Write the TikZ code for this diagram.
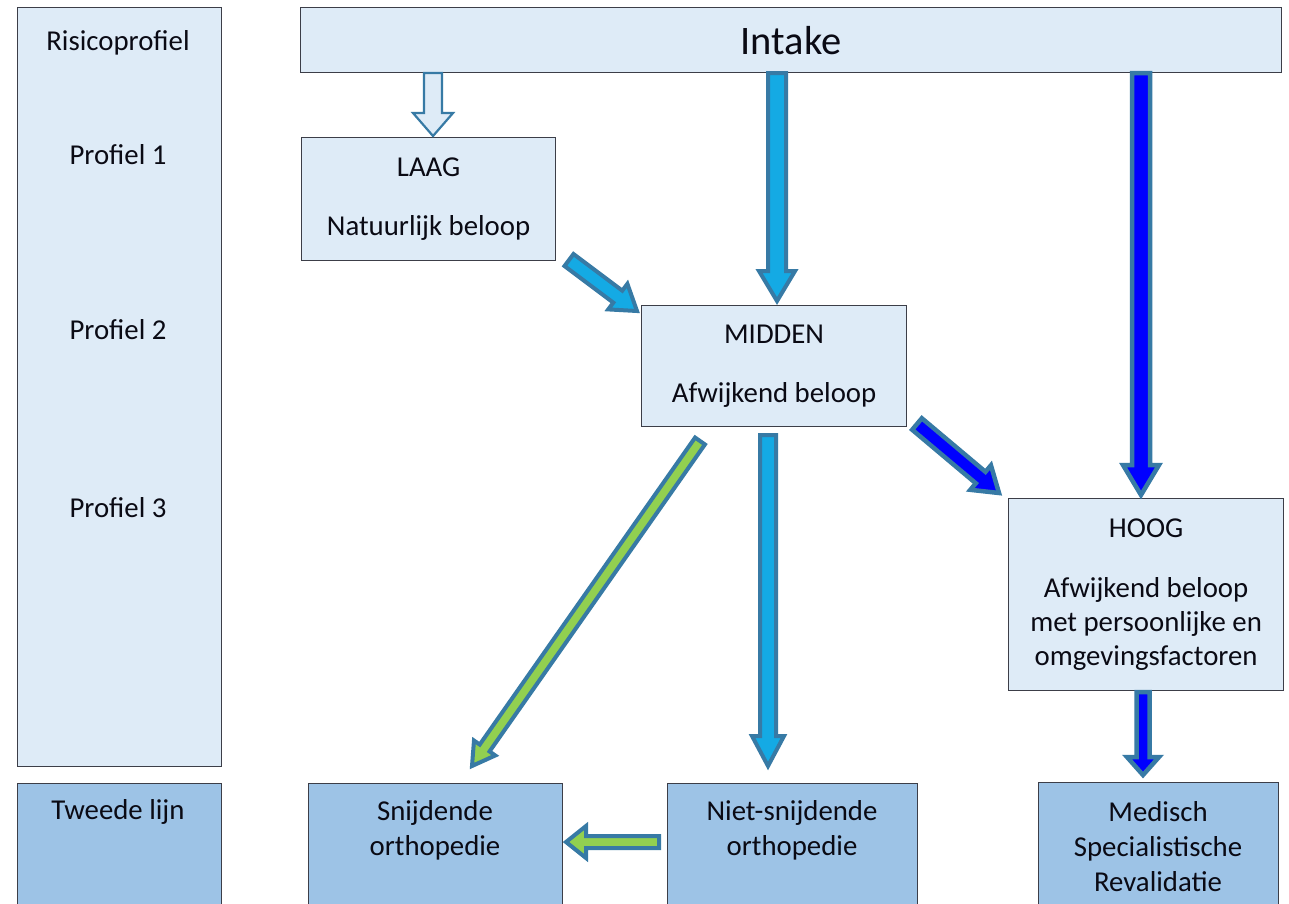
\documentclass[tikz,border=0pt]{standalone}
\usepackage{fontspec}
\setmainfont{Carlito}
\usetikzlibrary{calc}
\definecolor{boxlight}{RGB}{222,235,247}
\definecolor{boxdark}{RGB}{157,195,230}
\definecolor{boxline}{RGB}{60,62,72}
\definecolor{arrline}{RGB}{55,122,165}
\definecolor{arrcyan}{RGB}{20,170,228}
\definecolor{arrblue}{RGB}{0,0,255}
\definecolor{arrgreen}{RGB}{146,208,80}
\definecolor{txt}{RGB}{10,10,20}

% #1 style, #2 from, #3 to, #4 half shaft, #5 half head, #6 head length
\newcommand{\blockarrow}[6][]{%
  \coordinate (ba-head) at ($(#3)!#6!(#2)$);
  \draw[#1] ($(#2)!#4!90:(#3)$) -- ($(ba-head)!#4!90:(#3)$) -- ($(ba-head)!#5!90:(#3)$)
    -- (#3) -- ($(ba-head)!#5!-90:(#3)$) -- ($(ba-head)!#4!-90:(#3)$)
    -- ($(#2)!#4!-90:(#3)$) -- cycle;
}

\tikzset{
  lbox/.style={draw=boxline, line width=1.2pt, fill=boxlight, anchor=north west,
    inner sep=0pt, align=center, text=txt, font=\fontsize{28.8}{34}\selectfont},
  dbox/.style={lbox, fill=boxdark},
  lab/.style={inner sep=0pt, align=center, text=txt, font=\fontsize{28.8}{35}\selectfont},
  hollowarr/.style={draw=arrline, fill=boxlight, line width=2.2pt, line join=miter},
  cyanarr/.style={draw=arrline, fill=arrcyan, line width=4pt, line join=miter},
  bluearr/.style={draw=arrline, fill=arrblue, line width=4.5pt, line join=miter},
  greenarr/.style={draw=arrline, fill=arrgreen, line width=4pt, line join=miter},
}

\begin{document}
\begin{tikzpicture}[x=1pt,y=-1pt]
\useasboundingbox (0,0) rectangle (1289,903);
\fill[white] (0,0) rectangle (1289,903);
\clip (0,0) rectangle (1289,903);

% left column
\node[lbox, minimum width=204pt, minimum height=759pt] (risico) at (17,7) {};
\node[lab] (risicot) at (118,43) {Risicoprofiel};
\node[lab] (p1) at (118,155) {Profiel 1};
\node[lab] (p2) at (118,330) {Profiel 2};
\node[lab] (p3) at (118,508) {Profiel 3};
\node[dbox, minimum width=204pt, minimum height=140pt] (tweede) at (17,783) {};
\node[lab] (tweedet) at (118,812) {Tweede lijn};

% main boxes
\node[lbox, minimum width=981pt, minimum height=65pt, font=\fontsize{40.5}{48}\selectfont] (intake) at (300,7) {Intake};
\node[lbox, minimum width=254pt, minimum height=123pt] (laag) at (301,137) {LAAG\\[25pt]Natuurlijk beloop};
\node[lbox, minimum width=265pt, minimum height=121pt] (midden) at (641,305) {MIDDEN\\[25pt]Afwijkend beloop};
\node[lbox, minimum width=275pt, minimum height=192pt] (hoog) at (1008,498) {HOOG\\[26pt]Afwijkend beloop\\met persoonlijke en\\omgevingsfactoren};

% bottom boxes
\node[dbox, minimum width=254pt, minimum height=140pt] (snij) at (308,783) {};
\node[lab] (snijt) at (435,830) {Snijdende\\orthopedie};
\node[dbox, minimum width=250pt, minimum height=140pt] (niet) at (667,783) {};
\node[lab] (nriett) at (792,830) {Niet-snijdende\\orthopedie};
\node[dbox, minimum width=240pt, minimum height=140pt] (msr) at (1038,782) {};
\node[lab] (msrt) at (1158,847) {Medisch\\Specialistische\\Revalidatie};

% arrow end points
\coordinate (a1s) at (433,73);   \coordinate (a1e) at (433,136);
\coordinate (a2s) at (777,73);   \coordinate (a2e) at (777,301);
\coordinate (a3s) at (1141,73);  \coordinate (a3e) at (1141,495);
\coordinate (a4s) at (569,260);  \coordinate (a4e) at (637,311);
\coordinate (a5s) at (917,424);  \coordinate (a5e) at (999,493);
\coordinate (a6s) at (700,441);  \coordinate (a6e) at (472,766);
\coordinate (a7s) at (768,435);  \coordinate (a7e) at (768,766);
\coordinate (a8s) at (1143,692); \coordinate (a8e) at (1143,775);
\coordinate (a9s) at (659,842);  \coordinate (a9e) at (566,842);

\blockarrow[hollowarr]{a1s}{a1e}{9pt}{20pt}{23pt}
\blockarrow[cyanarr]{a2s}{a2e}{9pt}{18pt}{30pt}
\blockarrow[bluearr]{a3s}{a3e}{9pt}{18pt}{30pt}
\blockarrow[cyanarr]{a4s}{a4e}{7.5pt}{16pt}{24pt}
\blockarrow[bluearr]{a5s}{a5e}{7.5pt}{16pt}{24pt}
\blockarrow[greenarr]{a6s}{a6e}{6pt}{13pt}{22pt}
\blockarrow[cyanarr]{a7s}{a7e}{8pt}{16pt}{30pt}
\blockarrow[bluearr]{a8s}{a8e}{6.5pt}{16pt}{18pt}
\blockarrow[greenarr]{a9s}{a9e}{6pt}{16pt}{20pt}
\end{tikzpicture}
\end{document}
